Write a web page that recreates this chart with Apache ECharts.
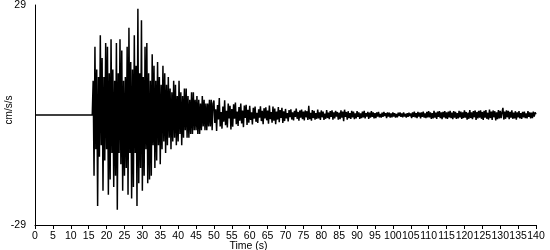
<!DOCTYPE html>
<html>
<head>
<meta charset="utf-8">
<script src="https://cdn.jsdelivr.net/npm/echarts@6/dist/echarts.min.js"></script>
<style>html,body{margin:0;padding:0;background:#fff;}#chart{width:550px;height:250px;}</style>
</head>
<body>
<div id="chart"></div>
<script>
// ---- data ----
const xTickLabels = ['0','5','10','15','20','25','30','35','40','45','50','55','60','65','70','75','80','85','90','95','100','105','110','115','120','125','130','135','140'];
const yTickLabels = ['-29', '29'];
const preEventTimes = [0, 16];
const preEventValues = [0, 0];
const strongStart = 16, strongStep = 0.25;
const strongValues = [
  0, 9, -16, 18,
  -9, 12, -24, 10,
  -11, 21, -8, 15,
  -20, 10, -12, 19,
  -9, 18, -21, 11,
  -17, 20, -10, 12,
  -19, 9, -16, 19,
  -25, 11, -10, 20,
  -13, 17, -20, 9,
  -16, 10, -14, 18,
  -21, 23, -10, 14,
  -22, 12, -19, 21,
  -10, 13, -24, 28,
  -18, 11, -14, 25,
  -20, 10, -16, 18,
  -9, 19, -18, 11,
  -17, 9, -16, 16,
  -8, 13, -14, 9,
  -12, 14, -8, 10,
  -13, 8, -9, 13,
  -7, 11, -10, 8,
  -8, 10, -6, 7,
  -9, 6, -7, 9,
  -6, 8, -8, 5,
  -7, 9, -5, 6,
  -8, 5, -6, 7,
  -4, 7, -6, 5,
  -6, 4, -5, 6,
  -5, 6, -4, 4,
  -4, 5, -5, 4,
  -5, 3, -4, 5,
  -3, 4, -4, 3,
  -4, 3, -3, 4,
  -3, 4, -4, 3
];
const codaStart = 50, codaStep = 0.25;
const codaValues = [
  3.8, -2.1, 1.5, -4.2, 2.6, -1.2, 4.5, -3.0, 0.8, -3.6, 2.2, -1.8, 3.9, -2.7, 1.1, -3.3, 3.0, -0.9, 2.4, -3.8,
  1.6, -3.1, 2.8, -1.0, 3.3, -2.4, 0.9, -2.9, 2.1, -1.5, 3.0, -2.2, 1.2, -3.2, 2.5, -0.8, 2.7, -2.6, 1.4, -2.0,
  2.4, -1.3, 0.7, -2.5, 1.9, -1.0, 2.2, -1.8, 0.6, -2.1, 1.5, -0.7, 2.3, -1.6, 1.1, -2.4, 1.8, -0.9, 2.0, -1.4,
  1.2, -2.3, 2.5, -1.1, 0.8, -2.0, 2.2, -1.5, 1.7, -2.4, 0.9, -1.2, 2.1, -1.9, 1.3, -0.8, 1.9, -2.1, 1.0, -1.6,
  1.6, -0.9, 0.5, -1.7, 1.3, -0.6, 1.5, -1.2, 0.7, -1.4, 1.1, -0.5, 1.7, -1.0, 0.8, -1.5, 1.2, -0.7, 1.4, -1.1,
  0.9, -1.4, 1.2, -0.6, 1.0, -1.3, 2.4, -1.1, 0.6, -1.5, 1.3, -0.8, 1.1, -1.2, 0.5, -1.0, 1.4, -0.9, 0.7, -1.3,
  1.2, -0.6, 0.9, -1.3, 0.4, -1.0, 1.3, -0.8, 0.6, -1.1, 1.0, -0.5, 1.2, -1.2, 0.7, -0.9, 1.1, -0.4, 0.8, -1.2,
  0.6, -1.1, 1.2, -0.7, 0.9, -1.6, 1.4, -0.5, 0.8, -1.2, 1.0, -0.8, 0.5, -1.0, 1.1, -0.6, 0.9, -1.1, 0.4, -0.9,
  1.0, -0.5, 0.7, -1.0, 0.4, -0.8, 0.9, -0.6, 1.1, -0.9, 0.5, -0.4, 0.8, -1.0, 0.6, -0.7, 1.0, -0.5, 0.7, -0.9,
  0.5, -0.8, 0.7, -0.4, 0.8, -0.6, 0.3, -0.7, 0.6, -0.5, 0.8, -0.3, 0.5, -0.8, 0.7, -0.4, 0.6, -0.7, 0.4, -0.6,
  0.7, -0.4, 0.5, -0.7, 0.3, -0.6, 0.6, -0.3, 0.7, -0.5, 0.4, -0.6, 0.7, -0.4, 0.3, -0.7, 0.5, -0.5, 0.6, -0.3,
  0.4, -0.8, 0.7, -0.5, 0.9, -0.6, 0.5, -0.8, 0.8, -0.4, 0.6, -0.9, 0.7, -0.5, 0.9, -0.7, 0.4, -0.8, 0.8, -0.6,
  1.0, -0.6, 0.7, -1.0, 0.5, -0.9, 1.1, -0.7, 0.6, -1.0, 0.9, -0.5, 1.0, -0.8, 0.7, -1.1, 0.8, -0.6, 1.0, -0.9,
  0.7, -1.0, 0.9, -0.6, 1.1, -0.8, 0.6, -1.1, 1.0, -0.7, 0.8, -1.0, 0.5, -0.9, 1.1, -0.6, 0.9, -1.0, 0.7, -0.8,
  1.2, -0.7, 0.8, -1.2, 0.6, -1.0, 1.3, -0.8, 0.7, -1.1, 1.0, -0.6, 1.2, -1.3, 0.8, -0.9, 1.1, -0.7, 1.2, -1.0,
  0.8, -1.3, 1.1, -0.7, 1.3, -1.0, 0.6, -1.2, 1.4, -0.8, 0.9, -1.3, 1.2, -0.6, 1.0, -1.4, 0.7, -1.1, 1.3, -0.9,
  1.1, -0.8, 0.7, 1.9, -1.2, 0.9, -1.0, 1.2, -0.6, 1.1, -1.1, 0.8, -0.7, 1.2, -1.0, 0.6, -0.9, 1.0, -1.2, 0.7,
  -0.6, 1.0, -0.9, 0.5, -1.0, 0.8, -0.6, 0.9, -0.8, 0.4, -0.9, 1.0, -0.5, 0.7, -0.9, 0.6, -0.8, 0.9, -0.4, 0.7,
  0.2
];

// ---- build series points ----
const points = [];
preEventTimes.forEach((t, i) => points.push([t, preEventValues[i]]));
strongValues.forEach((v, i) => points.push([strongStart + i * strongStep, v]));
codaValues.forEach((v, i) => points.push([codaStart + i * codaStep, v]));

const chart = echarts.init(document.getElementById('chart'), null, {renderer: 'canvas'});
const font = '"Liberation Sans", Arial, sans-serif';
chart.setOption({
  animation: false,
  backgroundColor: '#fff',
  grid: {left: 35, right: 14, top: 5, bottom: 25, containLabel: false, outerBoundsMode: 'none'},
  xAxis: {
    type: 'value', min: 0, max: 140, interval: 5,
    name: 'Time (s)', nameLocation: 'middle', nameGap: 16, nameMoveOverlap: false,
    nameTextStyle: {color: '#000', fontFamily: font, fontSize: 10.5, padding: [0, 74, 0, 0], verticalAlign: 'top'},
    axisLine: {show: true, onZero: false, lineStyle: {color: '#000', width: 1}},
    axisTick: {show: true, length: 4, lineStyle: {color: '#000'}},
    axisLabel: {color: '#000', fontFamily: font, fontSize: 10.5, margin: 6, interval: 0, hideOverlap: false,
      showMaxLabel: true, showMinLabel: true,
      formatter: (v) => xTickLabels[Math.round(v / 5)]},
    splitLine: {show: false}
  },
  yAxis: {
    type: 'value', min: -29, max: 29, interval: 58,
    name: 'cm/s/s', nameLocation: 'middle', nameGap: 21, nameRotate: 90, nameMoveOverlap: false,
    nameTextStyle: {color: '#000', fontFamily: font, fontSize: 10, padding: [0, 0, 0, 10]},
    axisLine: {show: true, onZero: false, lineStyle: {color: '#000', width: 1}},
    axisTick: {show: false},
    axisLabel: {color: '#000', fontFamily: font, fontSize: 10.5, margin: 9,
      formatter: (v) => (v < 0 ? yTickLabels[0] : yTickLabels[1])},
    splitLine: {show: false}
  },
  series: [{
    type: 'line', data: points, showSymbol: false, symbol: 'none',
    sampling: 'none', silent: true,
    lineStyle: {color: '#000', width: 1.5}
  }]
});
</script>
</body>
</html>
